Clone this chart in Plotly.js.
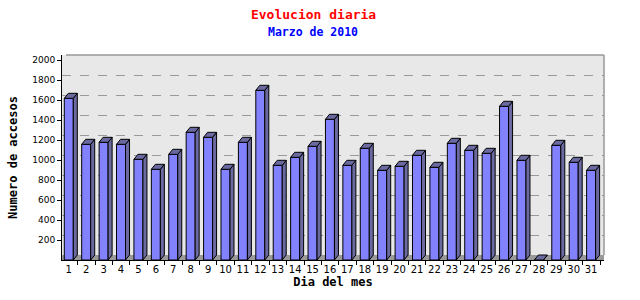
<!DOCTYPE html>
<html><head><meta charset="utf-8">
<script src="https://cdn.plot.ly/plotly-3.0.1.min.js"></script>
<style>html,body{margin:0;padding:0;background:#fff}#chart{width:640px;height:300px}</style>
</head><body><div id="chart"></div>
<script>
const days = [1,2,3,4,5,6,7,8,9,10,11,12,13,14,15,16,17,18,19,20,21,22,23,24,25,26,27,28,29,30,31];
const accesos = [1617,1157,1177,1157,1007,907,1057,1277,1227,907,1177,1697,947,1027,1137,1407,947,1117,897,937,1047,927,1167,1097,1067,1537,997,0,1147,977,897];
const yTicks = [200,400,600,800,1000,1200,1400,1600,1800,2000];
const gridVals = [200,400,600,800,1000,1200,1400,1600,1800];
const titleText = 'Evolucion diaria';
const subtitleText = 'Marzo de 2010';
const xTitle = 'Dia del mes';
const yTitle = 'Numero de accesos';

const W = 0.517, DX = 0.23, DY = 50;
const topX = [], topY = [], sideX = [], sideY = [];
days.forEach((d, k) => {
  const v = accesos[k], l = d - W/2, r = d + W/2;
  topX.push(l, l+DX, r+DX, r, l, null);
  topY.push(v, v+DY, v+DY, v, v, null);
  sideX.push(r, r+DX, r+DX, r, r, null);
  sideY.push(v, v+DY, DY, 0, v, null);
});

const mono = 'DejaVu Sans Mono, monospace';
const data = [
  {type:'bar', x:days, y:accesos, width:W, marker:{color:'#8282ff', line:{color:'#000', width:1}}, hoverinfo:'skip', showlegend:false},
  {type:'scatter', mode:'lines', x:sideX, y:sideY, fill:'toself', fillcolor:'#6a6aa0', line:{color:'#000', width:1}, hoverinfo:'skip', showlegend:false},
  {type:'scatter', mode:'lines', x:topX, y:topY, fill:'toself', fillcolor:'#6a6aa0', line:{color:'#000', width:1}, hoverinfo:'skip', showlegend:false}
];

const layout = {
  width:640, height:300,
  margin:{l:62, r:36, t:55, b:40},
  paper_bgcolor:'#fff', plot_bgcolor:'#e8e8e8',
  title:{text:titleText, font:{family:mono, size:13, color:'#ff0000', weight:'bold'}, x:0.49, xref:'container', y:0.953, yref:'container', yanchor:'middle'},
  annotations:[
    {text:subtitleText, xref:'paper', yref:'paper', x:(313-62)/542, y:1+(55-32)/205, xanchor:'center', yanchor:'middle', showarrow:false, font:{family:mono, size:11.5, color:'#0000ff', weight:'bold'}}
  ],
  xaxis:{range:[0.61,31.74], tickvals:days, ticktext:days.map(String), ticks:'', showgrid:false, zeroline:false,
    showline:true, linecolor:'#000', linewidth:1,
    tickfont:{family:'DejaVu Sans', size:10, color:'#000'},
    minor:{tick0:1.51, dtick:1, ticks:'outside', ticklen:4, tickcolor:'#000', showgrid:false},
    title:{text:xTitle, font:{family:mono, size:12, color:'#000', weight:'bold'}, standoff:2}},
  yaxis:{range:[0,2050], tickvals:yTicks, ticktext:yTicks.map(String), ticks:'outside', ticklen:4, tickcolor:'#000',
    showgrid:false, zeroline:false, showline:true, linecolor:'#000', linewidth:1,
    tickfont:{family:'DejaVu Sans', size:9, color:'#000'},
    title:{text:yTitle, font:{family:mono, size:12, color:'#000', weight:'bold'}, standoff:12}},
  yaxis2:{overlaying:'y', range:[-50,2000], tickvals:gridVals, showticklabels:false, ticks:'', showgrid:true,
    gridcolor:'#999', griddash:'dash', gridwidth:1, zeroline:false, showline:false},
  shapes:[
    {type:'rect', xref:'paper', yref:'y', x0:0, x1:1, y0:0, y1:DY, fillcolor:'#999', line:{width:0}, layer:'below'},
    {type:'line', xref:'paper', yref:'paper', x0:4/542, x1:1, y0:1, y1:1, line:{color:'#999', width:1.5}},
    {type:'line', xref:'paper', yref:'paper', x0:1, x1:1, y0:DY/2050, y1:1, line:{color:'#999', width:1.5}}
  ],
  showlegend:false
};
// dummy trace to activate yaxis2
data.unshift({type:'scatter', x:[days[0]], y:[0], yaxis:'y2', mode:'markers', marker:{opacity:0}, hoverinfo:'skip', showlegend:false});
Plotly.newPlot('chart', data, layout, {staticPlot:true, displayModeBar:false});
</script></body></html>
